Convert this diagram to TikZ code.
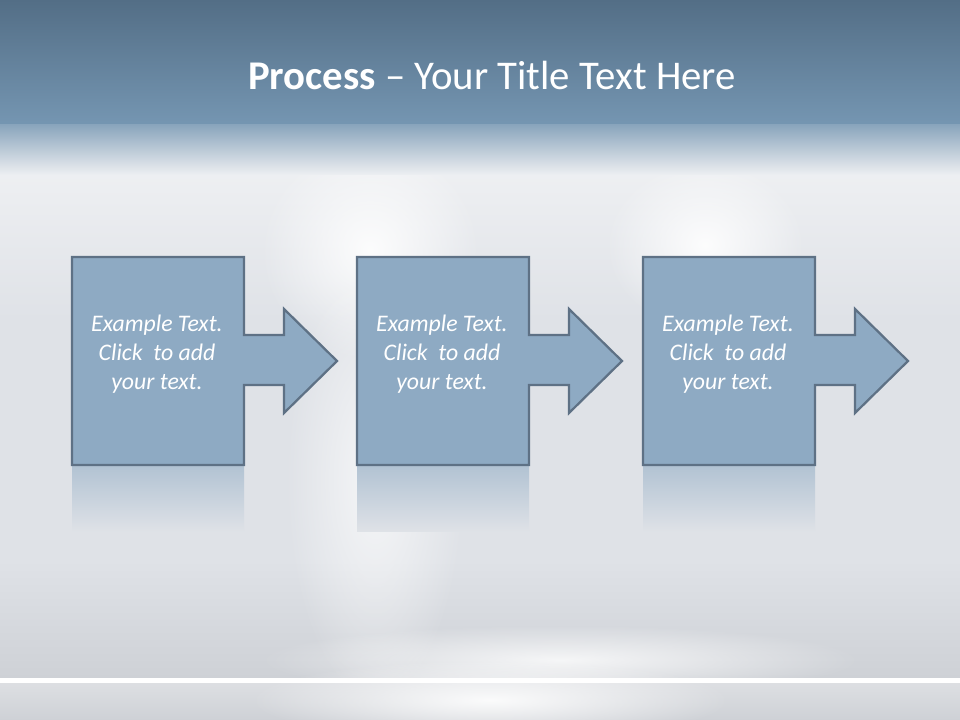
\documentclass[tikz,border=0pt]{standalone}
\usepackage{fontspec}
\setmainfont{Carlito}
\usetikzlibrary{positioning, fadings}
\definecolor{bandtop}{HTML}{536E86}
\definecolor{bandbot}{HTML}{7596B2}
\definecolor{metal}{HTML}{DFE2E7}
\definecolor{metaldark}{HTML}{CED1D6}
\definecolor{stepfill}{HTML}{8EAAC3}
\definecolor{stepline}{HTML}{5E7185}
\tikzfading[name = softglow, inner color = transparent!0, outer color = transparent!100]
\tikzstyle{stepshape} = [draw = stepline, fill = stepfill, line width = 1.6pt, line join = miter]
\tikzstyle{steptext} = [text = white, font = \fontsize{16.9}{20.8}\selectfont\itshape, align = center]
\tikzstyle{reflect} = [top color = stepfill!55!metal, bottom color = metal, draw = none]
\tikzstyle{glow} = [fill = white, path fading = softglow]
\tikzstyle{title} = [text = white, font = \fontsize{29}{35}\selectfont]

\begin{document}
\begin{tikzpicture}[x = 0.025cm, y = -0.025cm]
			\useasboundingbox (0, 0) rectangle (960, 720);
			% Background
			\fill [metal] (0, 0) rectangle (960, 720);
			\shade [top color = metal, bottom color = metaldark] (0, 560) rectangle (960, 678);
			\shade [top color = metal!55!white, bottom color = metal] (0, 175) rectangle (960, 320);
			\fill [glow, opacity = 0.9] (370, 250) ellipse [x radius = 110, y radius = 110];
			\fill [glow, opacity = 0.7] (375, 480) ellipse [x radius = 90, y radius = 220];
			\fill [glow, opacity = 0.9] (705, 245) ellipse [x radius = 100, y radius = 85];
			\fill [glow, opacity = 0.8] (560, 660) ellipse [x radius = 300, y radius = 35];
			\shade [top color = bandtop, bottom color = bandbot] (0, 0) rectangle (960, 125);
			\shade [top color = bandbot!80!metal, bottom color = metal!55!white] (0, 125) rectangle (960, 175);
			\fill [white] (0, 678) rectangle (960, 683);
			\shade [top color = metaldark!70!white, bottom color = metaldark] (0, 683) rectangle (960, 720);
			\fill [glow, opacity = 0.9] (490, 700) ellipse [x radius = 240, y radius = 40];
			% Title
			\node [title] (title) at (492, 75) {\textbf{Process} – Your Title Text Here};
			% Place steps
			\foreach \o/\n in {0/1, 285/2, 571/3} {
				\shade [reflect] (72 + \o, 467) rectangle (244 + \o, 532);
				\path [stepshape] (72 + \o, 257) -- (244 + \o, 257) -- (244 + \o, 335) -- (284 + \o, 335)
					-- (284 + \o, 309) -- (337 + \o, 361) -- (284 + \o, 413) -- (284 + \o, 385)
					-- (244 + \o, 385) -- (244 + \o, 465) -- (72 + \o, 465) -- cycle;
				\node [steptext] (step\n) at (157 + \o, 354) {Example Text.\\Click\ \ to add\\your text.};
			}
		\end{tikzpicture}
\end{document}
